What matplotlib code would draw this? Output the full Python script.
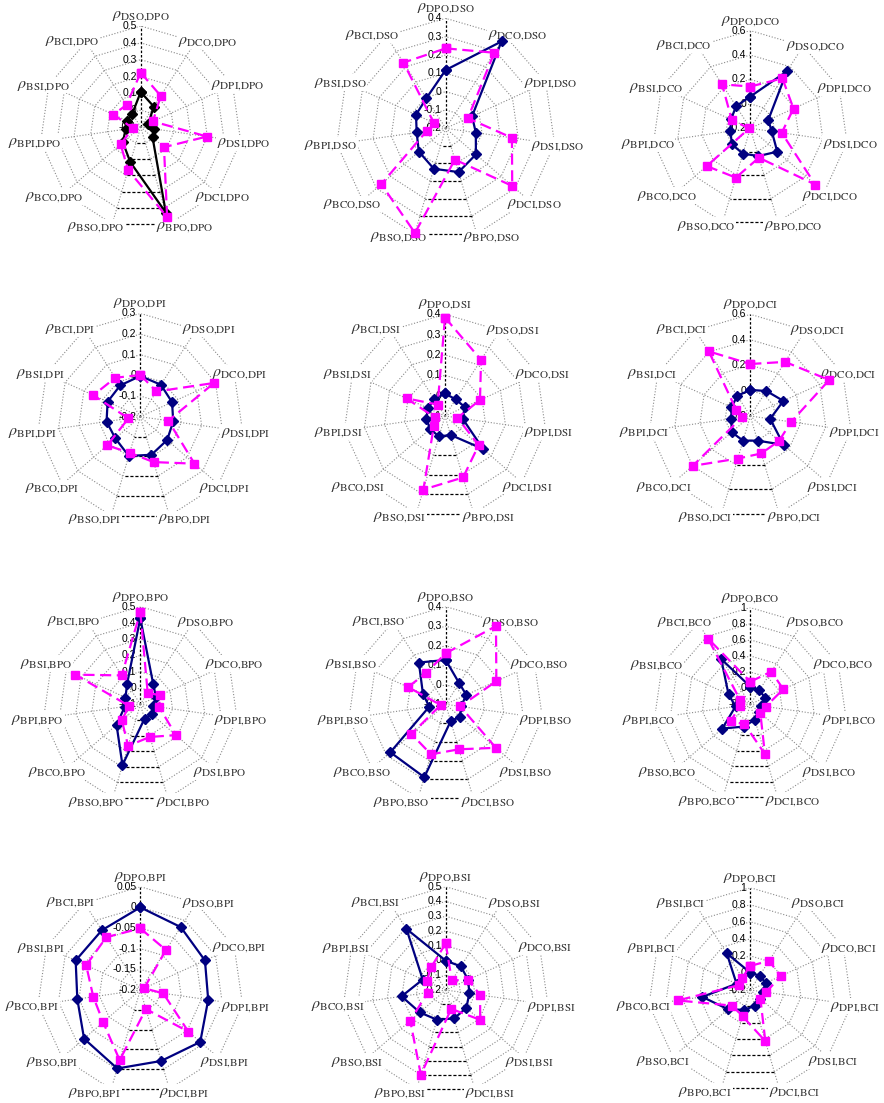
import numpy as np
import matplotlib
matplotlib.use("Agg")
import matplotlib.pyplot as plt

plt.rcParams["mathtext.fontset"] = "stix"
plt.rcParams["font.family"] = ["Liberation Sans", "DejaVu Sans"]

variables = ["DPO", "DSO", "DCO", "DPI", "DSI", "DCI", "BPO", "BSO", "BCO", "BPI", "BSI", "BCI"]

# Correlations of every other variable with the panel variable,
# listed in the order of `variables` with the panel variable itself left out.
rho_a_DPO = [0.108, 0.044, -0.05, -0.018, -0.007, 0.43, 0.118, 0.04, -0.009, -0.01, -0.007]
rho_b_DPO = [0.223, 0.12, -0.02, 0.298, 0.083, 0.457, 0.166, 0.058, -0.052, 0.078, 0.056]

rho_a_DSO = [0.118, 0.363, -0.042, -0.034, 0.018, 0.049, 0.03, -0.006, -0.04, -0.022, -0.005]
rho_b_DSO = [0.236, 0.29, -0.067, 0.165, 0.28, -0.022, 0.395, 0.265, -0.095, -0.129, 0.226]

rho_a_DCO = [0.06, 0.355, -0.039, -0.022, 0.092, 0.037, 0.016, 0.0, -0.036, -0.026, 0.015]
rho_b_DCO = [0.142, 0.286, 0.189, 0.06, 0.503, 0.051, 0.221, 0.272, -0.19, -0.033, 0.228]

rho_a_DPI = [-0.003, -0.016, -0.031, -0.039, -0.028, -0.008, -0.002, -0.04, -0.035, -0.026, -0.02]
rho_b_DPI = [0.002, -0.055, 0.193, -0.063, 0.147, 0.029, -0.018, 0.012, -0.142, 0.05, 0.024]

rho_a_DSI = [0.011, -0.003, 0.007, -0.013, 0.148, -0.003, 0.005, -0.003, -0.007, -0.008, -0.003]
rho_b_DSI = [0.384, 0.228, 0.089, -0.038, 0.119, 0.215, 0.277, -0.028, -0.05, 0.108, -0.033]

rho_a_DCI = [0.005, 0.034, 0.086, -0.042, 0.146, 0.002, 0.002, -0.006, -0.05, -0.037, -0.011]
rho_b_DCI = [0.209, 0.306, 0.482, 0.125, 0.099, 0.107, 0.149, 0.399, -0.134, -0.077, 0.404]

rho_a_BPO = [0.429, 0.047, 0.006, -0.02, -0.008, -0.008, 0.289, 0.093, -0.004, 0.0, 0.05]
rho_b_BPO = [0.466, -0.016, 0.033, 0.017, 0.189, 0.109, 0.166, 0.05, -0.03, 0.338, 0.111]

rho_a_BSO = [0.127, 0.028, 0.016, -0.021, -0.003, -0.01, 0.289, 0.275, -0.015, 0.028, 0.154]
rho_b_BSO = [0.161, 0.376, 0.185, -0.025, 0.24, 0.14, 0.167, 0.132, -0.074, 0.112, 0.089]

rho_a_BCO = [0.019, 0.01, -0.002, -0.06, -0.05, 0.0, 0.088, 0.26, -0.015, 0.097, 0.468]
rho_b_BCO = [0.08, 0.283, 0.25, -0.006, -0.035, 0.443, 0.056, 0.125, -0.072, -0.057, 0.769]

rho_a_BPI = [0.0, -0.019, -0.028, -0.034, -0.008, -0.021, -0.002, -0.02, -0.046, -0.028, -0.028]
rho_b_BPI = [-0.051, -0.085, -0.19, -0.144, -0.046, -0.152, -0.023, -0.081, -0.085, -0.056, -0.048]

rho_a_BSI = [-0.001, -0.01, -0.033, -0.038, -0.015, 0.001, 0.01, 0.032, 0.102, -0.029, 0.292]
rho_b_BSI = [0.116, -0.123, -0.033, 0.036, 0.109, -0.067, 0.398, 0.118, -0.076, -0.058, -0.017]

rho_a_BCI = [0.004, 0.0, 0.0, -0.055, -0.043, -0.008, 0.043, 0.145, 0.369, -0.023, 0.31]
rho_b_BCI = [0.082, 0.208, 0.19, -0.012, -0.043, 0.425, 0.122, 0.08, 0.66, -0.06, -0.027]

# Radial scale of each panel: (minimum at centre, maximum, tick step)
scale_DPO = (-0.1, 0.5, 0.1)
scale_DSO = (-0.2, 0.4, 0.1)
scale_DCO = (-0.2, 0.6, 0.2)
scale_DPI = (-0.2, 0.3, 0.1)
scale_DSI = (-0.1, 0.4, 0.1)
scale_DCI = (-0.2, 0.6, 0.2)
scale_BPO = (-0.1, 0.5, 0.1)
scale_BSO = (-0.1, 0.4, 0.1)
scale_BCO = (-0.2, 1.0, 0.2)
scale_BPI = (-0.2, 0.05, 0.05)
scale_BSI = (-0.2, 0.5, 0.1)
scale_BCI = (-0.2, 1.0, 0.2)

series_a = {"DPO": rho_a_DPO, "DSO": rho_a_DSO, "DCO": rho_a_DCO, "DPI": rho_a_DPI,
            "DSI": rho_a_DSI, "DCI": rho_a_DCI, "BPO": rho_a_BPO, "BSO": rho_a_BSO,
            "BCO": rho_a_BCO, "BPI": rho_a_BPI, "BSI": rho_a_BSI, "BCI": rho_a_BCI}
series_b = {"DPO": rho_b_DPO, "DSO": rho_b_DSO, "DCO": rho_b_DCO, "DPI": rho_b_DPI,
            "DSI": rho_b_DSI, "DCI": rho_b_DCI, "BPO": rho_b_BPO, "BSO": rho_b_BSO,
            "BCO": rho_b_BCO, "BPI": rho_b_BPI, "BSI": rho_b_BSI, "BCI": rho_b_BCI}
scales = {"DPO": scale_DPO, "DSO": scale_DSO, "DCO": scale_DCO, "DPI": scale_DPI,
          "DSI": scale_DSI, "DCI": scale_DCI, "BPO": scale_BPO, "BSO": scale_BSO,
          "BCO": scale_BCO, "BPI": scale_BPI, "BSI": scale_BSI, "BCI": scale_BCI}

# Figure layout in pixels: centre x, centre y (from top), outer radius
W, H = 884, 1103
panel_geom = [
    (140.7, 127.0, 101.0), (445.7, 128.3, 110.0), (750.3, 128.3, 97.7),
    (140.3, 416.7, 103.3), (445.0, 416.0, 101.7), (750.3, 416.0, 101.7),
    (140.3, 704.3, 97.7), (445.7, 704.3, 97.7), (750.3, 704.3, 96.7),
    (140.3, 990.0, 103.3), (445.7, 990.0, 103.3), (750.3, 990.0, 102.3),
]
# offset (px, right / down) of each rim label centre from its spoke tip
label_offsets = [(0, -10.5), (12.5, -1), (5, -0.5), (3, 1.5), (5.5, 3.5), (15, 3),
                 (-16.5, 3), (-10, 3.5), (-6, 1), (-5.5, 0), (-14, -1.5)]

NAVY = "#000080"
PINK = "#ff00ff"
GRID = "#8a8a8a"
PX = 72 / 100  # points per pixel

fig = plt.figure(figsize=(W / 100, H / 100), dpi=100)
fig.patch.set_facecolor("white")

for i, var in enumerate(variables):
    cx, cy, R = panel_geom[i]
    ax = fig.add_axes([(cx - R) / W, 1 - (cy + R) / H, 2 * R / W, 2 * R / H],
                      projection="polar")
    ax.set_theta_zero_location("N")
    ax.set_theta_direction(-1)
    rmin, rmax, step = scales[var]
    ax.set_ylim(rmin, rmax)
    ax.set_axis_off()

    others = [v for v in variables if v != var]
    n = len(others)
    theta = np.arange(n) * 2 * np.pi / n
    levels = np.round(np.arange(rmin, rmax + step / 2, step), 4)

    # polygonal grid rings; the bottom edge of each ring is drawn dashed black
    order = list(range(6, n)) + list(range(0, 6))
    for lev in levels[1:]:
        ax.plot(theta[order], [lev] * n, color=GRID, lw=0.8, ls=(0, (1, 1.6)), zorder=1)
        ax.plot(theta[[5, 6]], [lev, lev], color="black", lw=0.9, ls=(0, (2.5, 1.5)), zorder=1)

    # spokes; the value axis at the top is black
    for k in range(n):
        if k == 0:
            ax.plot([theta[k]] * 2, [rmin, rmax], color="black", lw=0.9,
                    ls=(0, (2, 1.5)), zorder=1)
        else:
            ax.plot([theta[k]] * 2, [rmin, rmax], color=GRID, lw=0.8,
                    ls=(0, (1, 1.6)), zorder=1)

    # category labels around the rim (opaque, covering the grid under them)
    for k, other in enumerate(others):
        ox, oy = label_offsets[k]
        ax.annotate(rf"$\rho_{{\mathrm{{{other}{{,}}{var}}}}}$",
                    xy=(theta[k], rmax), xytext=(ox * PX, -oy * PX),
                    textcoords="offset points", ha="center", va="center",
                    fontsize=11.5, color="#333333", annotation_clip=False,
                    bbox=dict(boxstyle="square,pad=0.05", fc="white", ec="none"),
                    zorder=2)

    # value tick labels along the top spoke
    for lev in levels:
        ax.annotate(f"{float(lev) + 0:g}", xy=(0, lev), xytext=(-2.8, 0),
                    textcoords="offset points", ha="right", va="center",
                    fontsize=7.5, color="black", zorder=2.5)

    tc = np.append(theta, theta[0])
    a = np.array(series_a[var])
    b = np.array(series_b[var])
    line_col = "black" if var == "DPO" else NAVY
    ax.plot(tc, np.append(a, a[0]), color=line_col, lw=1.6, marker="D", ms=4.8,
            mec=line_col, mfc=line_col, clip_on=False, zorder=3)
    ax.plot(tc, np.append(b, b[0]), color=PINK, lw=1.6, dashes=(5, 2.5), marker="s",
            ms=5.8, mec=PINK, mfc=PINK, clip_on=False, zorder=4)

fig.savefig("out.png", dpi=100, facecolor="white")
